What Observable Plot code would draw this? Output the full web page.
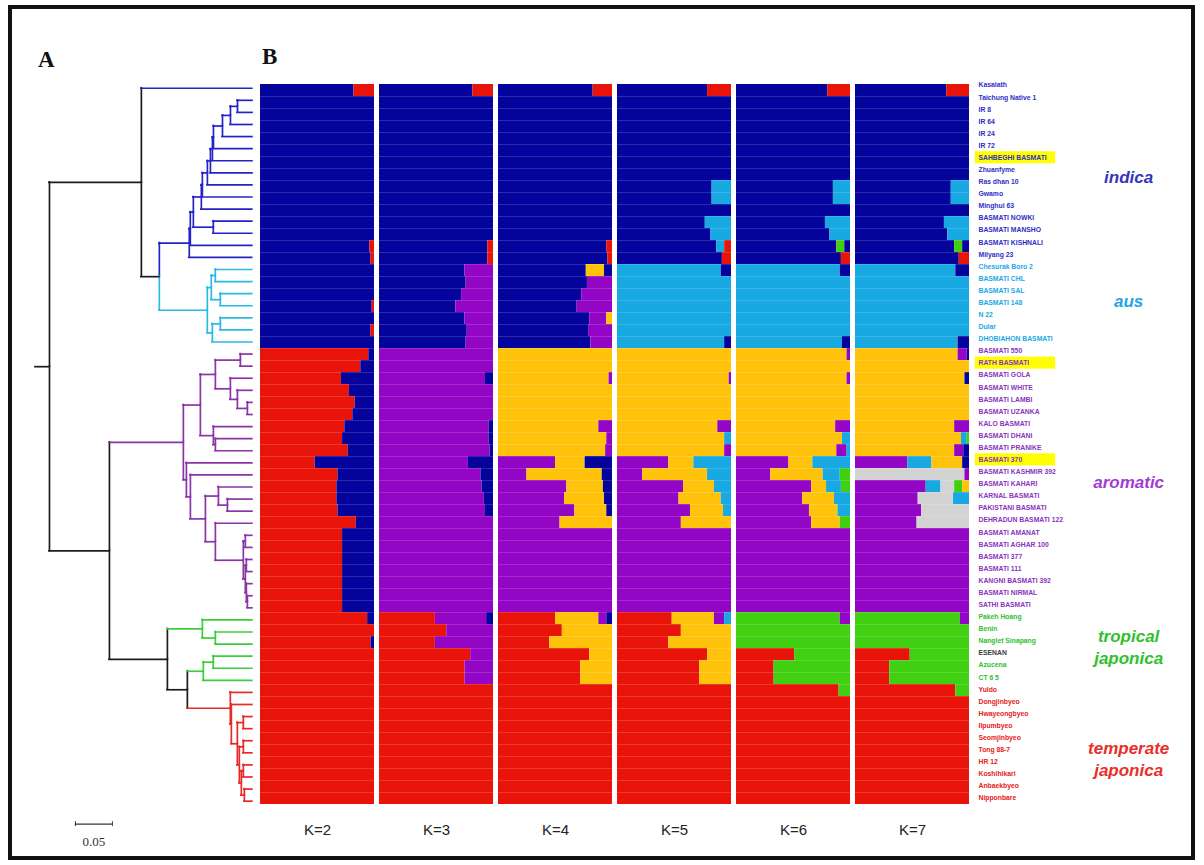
<!DOCTYPE html>
<html><head><meta charset="utf-8">
<script src="https://cdn.jsdelivr.net/npm/d3@7"></script>
<script src="https://cdn.jsdelivr.net/npm/@observablehq/plot@0.6"></script>
<style>
body{margin:0;background:#fff}
#fig{position:relative;width:1204px;height:865px;overflow:hidden;background:#fff}
#frame{position:absolute;left:8px;top:5px;width:1179px;height:847px;border:4px solid #111}
.letter{position:absolute;font:bold 23px "Liberation Serif",serif;color:#111}
</style></head>
<body><div id="fig"><div id="frame"></div>
<div class="letter" style="left:38px;top:47px">A</div>
<div class="letter" style="left:262px;top:44px">B</div>
</div>
<script>
// ---------------- data ----------------
const samples = ["Kasalath","Taichung Native 1","IR 8","IR 64","IR 24","IR 72","SAHBEGHI BASMATI","Zhuanfyme","Ras dhan 10","Gwamo","Minghui 63","BASMATI NOWKI","BASMATI MANSHO","BASMATI KISHNALI","Milyang 23",
"Chesurak Boro 2","BASMATI CHL","BASMATI SAL","BASMATI 148","N 22","Dular","DHOBIAHON BASMATI",
"BASMATI 550","RATH BASMATI","BASMATI GOLA","BASMATI WHITE","BASMATI LAMBI","BASMATI UZANKA","KALO BASMATI","BASMATI DHANI","BASMATI PRANIKE","BASMATI 370","BASMATI KASHMIR 392","BASMATI KAHARI","KARNAL BASMATI","PAKISTANI BASMATI","DEHRADUN BASMATI 122","BASMATI AMANAT","BASMATI AGHAR 100","BASMATI 377","BASMATI 111","KANGNI BASMATI 392","BASMATI NIRMAL","SATHI BASMATI",
"Pakeh Hoang","Benin","Nanglet Sinapang","ESENAN","Azucena","CT 6 5",
"Yuldo","Dongjinbyeo","Hwayeongbyeo","Ilpumbyeo","Seomjinbyeo","Tong 88-7","HR 12","Koshihikari","Anbaekbyeo","Nipponbare"];
const groupNames = ["indica","aus","aromatic","tropical\njaponica","temperate\njaponica"];
const groupSizes = [15,7,22,6,10];
const highlighted = [6,23,31];
const kLabels = ["K=2","K=3","K=4","K=5","K=6","K=7"];

// membership per row: code + percent (b=blue r=red p=purple y=yellow c=cyan g=green w=grey)
const K2 = ["b82 r18","b","b","b","b","b","b","b","b","b","b","b","b","b96 r4","b97 r3","b","b","b","b98 r2","b","b97 r3","b",
"r95 b5","r88 b12","r71 b29","r78 b22","r83 b17","r81 b19","r74 b26","r72 b28","r77 b23","r48 b52","r68 b32","r67 b33","r67 b33","r68 b32","r84 b16",
"r72 b28","r72 b28","r72 b28","r72 b28","r72 b28","r72 b28","r72 b28","r94 b6","r","r97 b3","r","r","r","r","r","r","r","r","r","r","r","r","r"];
const K3 = ["b82 r18","b","b","b","b","b","b","b","b","b","b","b","b","b95 r5","b95 r5","b75 p25","b76 p24","b72 p28","b67 p33","b75 p25","b77 p23","b76 p24",
"p","p","p93 b7","p","p","p","p96 b4","p96 b4","p97 b3","p78 b22","p89 b11","p90 b10","p92 b8","p93 b7",
"p","p","p","p","p","p","p","p","r49 p45 b6","r59 p41","r49 p51","r80 p20","r75 p25","r75 p25","r","r","r","r","r","r","r","r","r","r"];
const K4 = ["b83 r17","b","b","b","b","b","b","b","b","b","b","b","b","b95 r5","b96 r4","b77 y16 b7","b78 p22","b73 p27","b69 p31","b80 p15 y5","b79 p21","b81 p19",
"y","y","y97 p3","y","y","y","y88 p12","y95 p5","y94 p6","p50 y26 b24","p25 y66 b9","p60 y32 b8","p58 y35 b7","p67 y28 b5","p54 y46",
"p","p","p","p","p","p","p","r50 y38 p7 b5","r56 y44","r45 y55","r80 y20","r72 y28","r72 y28","r","r","r","r","r","r","r","r","r","r"];
const K5 = ["b79 r21","b","b","b","b","b","b","b","b83 c17","b83 c17","b","b77 c23","b82 c18","b87 c7 r6","b92 r8","c91 b9","c","c","c","c","c","c94 b6",
"y","y","y98 p2","y","y","y","y88 p12","y94 c6","y94 p6","p45 y22 c33","p22 y57 c21","p58 y27 c15","p54 y37 c9","p64 y29 c7","p56 y44",
"p","p","p","p","p","p","p","r48 y37 p9 c6","r56 y44","r45 y55","r79 y21","r72 y28","r72 y28","r","r","r","r","r","r","r","r","r","r"];
const K6 = ["b80 r20","b","b","b","b","b","b","b","b85 c15","b85 c15","b","b78 c22","b82 c18","b88 g7 b5","b92 r8","c91 b9","c","c","c","c","c","c93 b7",
"y97 p3","y","y97 p3","y","y","y","y87 p13","y93 c7","y88 p9 c3","p46 y21 c33","p30 y46 c15 g9","p66 y13 c13 g8","p58 y28 c14","p64 y25 c11","p66 y25 g9",
"p","p","p","p","p","p","p","g91 p9","g","g","r51 g49","r33 g67","r33 g67","r90 g10","r","r","r","r","r","r","r","r","r"];
const K7 = ["b80 r20","b","b","b","b","b","b","b","b84 c16","b84 c16","b","b78 c22","b81 c19","b87 g7 b6","b91 r9","c88 b12","c","c","c","c","c","c90 b10",
"y90 p8 b2","y","y96 b4","y","y","y","y87 p13","y93 c5 g2","y87 p8 b5","p46 c21 y27 b6","w96 p4","p62 c13 w12 g7 y6","p55 w31 c14","p58 w42","p54 w46",
"p","p","p","p","p","p","p","g92 p8","g","g","r48 g52","r30 g70","r30 g70","r88 g12","r","r","r","r","r","r","r","r","r"];

const clusterCodes = ["b","r","p","y","c","g","w"];
const clusterColors = ["#04049c","#e8140a","#9306c6","#ffc30c","#18a8e2","#41cf12","#d3d3d3"];

// dendrogram (Newick, branch lengths); leaves are row indices
const indicaNwk = "((((((((((((1:0.0203,2:0.0203):0.0095,3:0.0297):0.0108,4:0.0405):0.0122,5:0.0527):0.0014,6:0.0541):0.0027,7:0.0568):0.0041,8:0.0608):0.0068,9:0.0676):0.0014,10:0.0689):0.0108,(11:0.0527,12:0.0527):0.0270):0.0041,13:0.0838):0.0014,14:0.0851)IND:0.0405";
const ausNwk = "(((15:0.0500,16:0.0500):0.0054,(17:0.0432,18:0.0432):0.0122):0.0054,((19:0.0432,20:0.0432):0.0108,21:0.0541):0.0068)AUS:0.0649";
const aromaticNwk = "((((22:0.0162,23:0.0162):0.0338,(24:0.0297,(25:0.0203,(26:0.0068,27:0.0068):0.0135):0.0095):0.0203):0.0203,(28:0.0527,(29:0.0500,30:0.0500):0.0027):0.0176):0.0230,(31:0.0892,(32:0.0838,((33:0.0459,(34:0.0338,35:0.0338):0.0122):0.0176,(36:0.0500,((37:0.0095,38:0.0095):0.0027,((39:0.0081,40:0.0081):0.0014,(41:0.0081,(42:0.0068,43:0.0068):0.0014):0.0014):0.0027):0.0378):0.0135):0.0203):0.0054):0.0041)ARO:0.1000";
const tropical1Nwk = "(44:0.0676,(45:0.0500,46:0.0500):0.0176)T1:0.0473";
const tropical2Nwk = "((47:0.0527,48:0.0527):0.0135,49:0.0662)T3:0.0216";
const temperateNwk = "(50:0.0297,(51:0.0284,((52:0.0122,53:0.0122):0.0081,((54:0.0122,55:0.0122):0.0054,((56:0.0122,57:0.0122):0.0027,(58:0.0108,59:0.0108):0.0041):0.0027):0.0027):0.0081):0.0014)TEM:0.0581";
const scaleBar = 0.05;

// ---------------- styling ----------------
const black = "#1c1c1c";
const branchColors = {IND:"#2424c6", AUS:"#2cb8e4", ARO:"#8a34a8", T1:"#3acf3a", T3:"#3acf3a", TEM:"#e62a2a"};
const groupBranch = ["#2424c6","#2cb8e4","#8a34a8","#3acf3a","#e62a2a"];
const labelColors = ["#2e2ec6","#20a8e6","#8a34c0","#2fbf2f","#e62020"];
const titleColors = ["#3434c0","#22a6e2","#a03cd6","#2fc12f","#e8302a"];
const ROWS = d3.range(samples.length);
const rowGroup = [];
groupSizes.forEach((n, g) => { for (let i = 0; i < n; i++) rowGroup.push(g); });
const fig = document.getElementById("fig");
const TOP = 81.7, BOT = 806.7, H = 865;
function place(el, left) { el.style.position = "absolute"; el.style.left = left + "px"; el.style.top = "0px"; el.style.maxWidth = "none"; fig.append(el); }

// ---------------- STRUCTURE bars ----------------
const kRows = [K2, K3, K4, K5, K6, K7];
const segs = [];
kLabels.forEach((k, ki) => kRows[ki].forEach((s, row) => {
  const parts = s.split(" ").map(t => ({code: t[0], v: t.length > 1 ? +t.slice(1) : 100}));
  const tot = d3.sum(parts, p => p.v);
  let acc = 0;
  parts.forEach(p => { const x1 = acc / tot; acc += p.v; segs.push({k, row, code: p.code, x1, x2: acc / tot}); });
}));
const bars = Plot.plot({
  width: 730, height: H, marginLeft: 8, marginRight: 10, marginTop: TOP, marginBottom: H - BOT,
  style: {fontFamily: "'Liberation Sans', Arial, sans-serif", fontSize: "15px", color: "#222", background: "transparent"},
  x: {domain: [0, 1], axis: null},
  y: {type: "band", domain: ROWS, padding: 0, axis: null},
  fx: {domain: kLabels, paddingInner: 0.046, paddingOuter: 0, axis: "bottom", tickSize: 0, tickPadding: 17, label: null},
  color: {domain: clusterCodes, range: clusterColors},
  marks: [
    Plot.barX(segs, {fx: "k", y: "row", x1: "x1", x2: "x2", fill: "code"}),
    Plot.ruleY(ROWS.slice(1), {y: d => d, dy: -(BOT - TOP) / 120, stroke: "#ffffff", strokeOpacity: 0.16, strokeWidth: 1})
  ]
});
place(bars, 250);

// ---------------- dendrogram ----------------
function parseNewick(s) {
  let i = 0;
  function node() {
    const n = {children: []};
    if (s[i] === "(") {
      i++; n.children.push(node());
      while (s[i] === ",") { i++; n.children.push(node()); }
      i++;
    }
    let name = "";
    while (i < s.length && !":,();".includes(s[i])) name += s[i++];
    n.name = name; n.len = 0;
    if (s[i] === ":") { i++; let num = ""; while (i < s.length && !",();".includes(s[i])) num += s[i++]; n.len = +num; }
    return n;
  }
  return node();
}
const treeNwk = `((0:0.1500,(${indicaNwk},${ausNwk})IAsub:0.0243)IA:0.1243,(${aromaticNwk},(${tropical1Nwk},(${tropical2Nwk},${temperateNwk})TT:0.0270)JAP:0.0784)AJ:0.0811)ROOT:0.0189`;
const tree = parseNewick(treeNwk);
const hSegs = [], vSegs = [];
let maxDepth = 0;
(function layout(n, pDepth, pColor) {
  n.depth = pDepth + n.len;
  maxDepth = Math.max(maxDepth, n.depth);
  if (!n.children.length) { n.y = +n.name; n.color = groupBranch[rowGroup[n.y]]; }
  else {
    n.color = branchColors[n.name] || pColor;
    n.children.forEach(c => layout(c, n.depth, n.color));
    n.y = (n.children[0].y + n.children[n.children.length - 1].y) / 2;
    n.children.forEach(c => vSegs.push({x: n.depth, y1: n.y, y2: c.y, color: n.name === "IAsub" ? c.color : n.color}));
  }
  hSegs.push({x1: pDepth, x2: n.depth, y: n.y, color: n.color});
})(tree, 0, black);

const sbStart = 0.054;
const dendro = Plot.plot({
  width: 256, height: H, marginLeft: 35, marginRight: 4, marginTop: TOP, marginBottom: H - BOT,
  style: {fontFamily: "'Liberation Serif', serif", background: "transparent", overflow: "visible"},
  x: {domain: [0, maxDepth], axis: null},
  y: {domain: [-0.5, ROWS.length - 0.5], reverse: true, axis: null},
  color: {type: "identity"},
  marks: [
    Plot.ruleX(vSegs, {x: "x", y1: "y1", y2: "y2", stroke: "color", strokeWidth: 1.7, strokeLinecap: "square"}),
    Plot.ruleY(hSegs, {y: "y", x1: "x1", x2: "x2", stroke: "color", strokeWidth: 1.7, strokeLinecap: "square"}),
    Plot.ruleY([scaleBar], {y: 60.9, x1: sbStart, x2: d => sbStart + d, stroke: "#333", strokeWidth: 1.2}),
    Plot.ruleX([sbStart, sbStart + scaleBar], {x: d => d, y1: 60.7, y2: 61.1, stroke: "#333", strokeWidth: 1}),
    Plot.text([scaleBar], {x: sbStart + scaleBar / 2, y: 62.4, text: d => d.toFixed(2), fontSize: 13, fill: "#333"})
  ]
});
place(dendro, 0);

// ---------------- sample labels & group names ----------------
const groupMid = [];
{ let s = 0; groupSizes.forEach(n => { groupMid.push(s + (n - 1) / 2); s += n; }); }
const groupDy = [6, -3, 3, -1, 14];
const labels = Plot.plot({
  width: 234, height: H, marginLeft: 7, marginRight: 7, marginTop: TOP - 3, marginBottom: H - BOT + 3,
  style: {fontFamily: "'Liberation Sans', Arial, sans-serif", background: "transparent", overflow: "visible"},
  x: {domain: [0, 1], axis: null},
  y: {domain: [-0.5, ROWS.length - 0.5], reverse: true, axis: null},
  color: {type: "identity"},
  marks: [
    Plot.rect(highlighted, {x1: -0.01, x2: 0.355, y1: d => d - 0.5, y2: d => d + 0.5, fill: "#ffff00"}),
    Plot.text(samples, {x: 0, y: (d, i) => i, text: d => d, textAnchor: "start", dx: 1, fontSize: 6.8, fontWeight: "bold",
      fill: (d, i) => d === "ESENAN" ? "#3a3a3a" : labelColors[rowGroup[i]]}),
    ...groupNames.map((g, gi) => Plot.text([g], {x: 0.687, y: groupMid[gi], text: d => d, dy: groupDy[gi],
      fontSize: 17, fontWeight: "bold", fontStyle: "italic", lineHeight: 1.3, fill: titleColors[gi]}))
  ]
});
place(labels, 970);
</script>
</body></html>
